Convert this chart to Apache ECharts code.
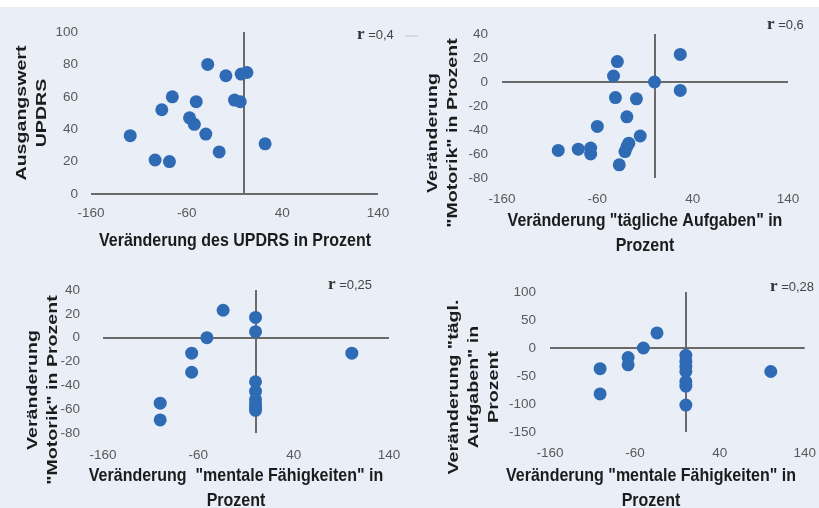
<!DOCTYPE html>
<html>
<head>
<meta charset="utf-8">
<script src="https://cdn.jsdelivr.net/npm/echarts@6/dist/echarts.min.js"></script>
<style>
  html, body { margin: 0; padding: 0; background: #fff; }
  #chart { width: 819px; height: 508px; }
</style>
</head>
<body>
<div id="chart"></div>
<script>
// x: Veränderung des UPDRS, y: Ausgangswert UPDRS
var updrsX = [-119, -93, -78, -86, -75, -57, -52, -50, -40, -38, -26, -19, -10, -4, -3, 3, 22];
var updrsY = [36, 21, 20, 52, 60, 47, 43, 57, 37, 80, 26, 73, 58, 57, 74, 75, 31];
// x: tägliche Aufgaben, y: Motorik
var aufgX = [-101, -80, -67, -67, -60, -43, -39, -41, -37, -29, -31, -29, -27, -19, -15, 0, 27, 27];
var motY1 = [-57, -56, -55, -60, -37, 5, 17, -13, -69, -29, -58, -54, -51, -14, -45, 0, 23, -7];
// x: mentale Fähigkeiten, y: Motorik
var mentX1 = [-100, -100, -67, -67, -51, -34, 0, 0, 0, 0, 0, 0, 0, 0, 101];
var motY2 = [-55, -69, -13, -29, 0, 23, 17, 5, -37, -45, -52, -56, -59, -61, -13];
// x: mentale Fähigkeiten, y: tägl. Aufgaben
var mentX2 = [-101, -101, -68, -68, -50, -34, 0, 0, 0, 0, 0, 0, 0, 100];
var aufgY = [-37, -82, -17, -30, 0, 27, -13, -24, -33, -42, -60, -68, -102, -42];

var xTicks = { min: -160, max: 140, interval: 100 };
var yTicks = [
    { min: 0, max: 100, interval: 20 },
    { min: -80, max: 40, interval: 20 },
    { min: -80, max: 40, interval: 20 },
    { min: -150, max: 100, interval: 50 }
];
var rValues = ['0,4', '0,6', '0,25', '0,28'];

var pairs = [[updrsX, updrsY], [aufgX, motY1], [mentX1, motY2], [mentX2, aufgY]];

var grids = [
    { left: 91, top: 32, width: 287, height: 162 },
    { left: 502, top: 34, width: 286, height: 144 },
    { left: 103, top: 290, width: 286, height: 143 },
    { left: 550, top: 292, width: 259, height: 140 }
];
var xLabelMargin = [12, 14, 15, 14];
var yLabelMargin = [13, 14, 23, 14];

var tickFont = { color: '#595959', fontSize: 13.5, fontFamily: 'Liberation Sans, Arial, sans-serif' };
var dotColor = '#2e6bb4';

function zip(xs, ys) {
    return xs.map(function (x, i) { return [x, ys[i]]; });
}

var xAxes = [], yAxes = [], series = [];
grids.forEach(function (g, i) {
    xAxes.push({
        type: 'value', gridIndex: i,
        min: xTicks.min, max: xTicks.max, interval: xTicks.interval,
        axisLine: { show: false }, axisTick: { show: false }, splitLine: { show: false },
        axisLabel: Object.assign({ margin: xLabelMargin[i] }, tickFont)
    });
    yAxes.push({
        type: 'value', gridIndex: i,
        min: yTicks[i].min, max: yTicks[i].max, interval: yTicks[i].interval,
        axisLine: { show: false }, axisTick: { show: false }, splitLine: { show: false },
        axisLabel: Object.assign({ margin: yLabelMargin[i] }, tickFont)
    });
    series.push({
        type: 'scatter', xAxisIndex: i, yAxisIndex: i,
        symbolSize: 13,
        itemStyle: { color: dotColor, opacity: 1 },
        data: zip(pairs[i][0], pairs[i][1]),
        z: 3,
        markLine: {
            silent: true, z: 1,
            symbol: ['none', 'none'],
            label: { show: false },
            lineStyle: { color: '#6a6a6a', width: 2, type: 'solid' },
            emphasis: { disabled: true },
            data: [{ xAxis: 0 }, { yAxis: 0 }]
        }
    });
});

// axis titles look stretched in the picture, so scale them
function xTitle(text, x, y) {
    return {
        type: 'text', x: x, y: y, scaleY: 1.2,
        style: {
            text: text, fill: '#1c1c1c', fontSize: 16, fontWeight: 'bold',
            fontFamily: 'Liberation Sans, Arial, sans-serif',
            align: 'center', verticalAlign: 'middle', lineHeight: 21
        }
    };
}
function yTitle(text, x, y) {
    return {
        type: 'text', x: x, y: y, rotation: Math.PI / 2, scaleX: 1.4,
        style: {
            text: text, fill: '#1c1c1c', fontSize: 14, fontWeight: 'bold',
            fontFamily: 'Liberation Sans, Arial, sans-serif',
            align: 'center', verticalAlign: 'middle', lineHeight: 20
        }
    };
}
function rLabel(val, x, y) {
    return {
        type: 'text', x: x, y: y,
        style: {
            text: '{r|r} =' + val, fill: '#444', fontSize: 13,
            fontFamily: 'Liberation Sans, Arial, sans-serif',
            verticalAlign: 'middle',
            rich: { r: { fontFamily: 'Liberation Serif, serif', fontWeight: 'bold', fontSize: 17, fill: '#333' } }
        }
    };
}

var option = {
    animation: false,
    backgroundColor: '#e9eef7',
    grid: grids,
    xAxis: xAxes,
    yAxis: yAxes,
    series: series,
    graphic: [
        { type: 'rect', shape: { x: 0, y: 0, width: 819, height: 7 }, style: { fill: '#fff' }, z: -1 },
        xTitle('Veränderung des UPDRS in Prozent', 235, 241),
        xTitle('Veränderung "tägliche Aufgaben" in\nProzent', 645, 233),
        xTitle('Veränderung  "mentale Fähigkeiten" in\nProzent', 236, 488),
        xTitle('Veränderung "mentale Fähigkeiten" in\nProzent', 651, 488),
        yTitle('Ausgangswert\nUPDRS', 32, 113),
        yTitle('Veränderung\n"Motorik" in Prozent', 443, 133),
        yTitle('Veränderung\n"Motorik" in Prozent', 43, 390),
        yTitle('Veränderung "tägl.\nAufgaben" in\nProzent', 474, 387),
        rLabel(rValues[0], 357, 35),
        rLabel(rValues[1], 767, 25),
        rLabel(rValues[2], 328, 285),
        rLabel(rValues[3], 770, 287),
        { type: 'line', shape: { x1: 405, y1: 36, x2: 418, y2: 36 }, style: { stroke: '#c4c8cf', lineWidth: 1 } }
    ]
};

var chart = echarts.init(document.getElementById('chart'), null, { renderer: 'canvas' });
chart.setOption(option);
</script>
</body>
</html>
